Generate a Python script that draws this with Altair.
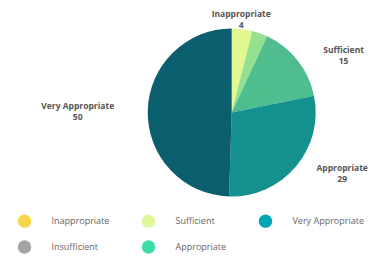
import altair as alt
import pandas as pd

categories = ["Inappropriate", "Insufficient", "Sufficient", "Appropriate", "Very Appropriate"]
values = [4, 3, 15, 29, 50]
pie_colors = ["#e3f790", "#93e08f", "#4fbd8e", "#14918f", "#0a5e6e"]
legend_colors = ["#f8d64b", "#a3a3a3", "#dff79b", "#3ddca8", "#00a6b4"]
labelled = ["Inappropriate", "Sufficient", "Appropriate", "Very Appropriate"]

df = pd.DataFrame({"category": categories, "value": values, "order": list(range(len(categories)))})
legend_df = pd.DataFrame({"item": categories})
total = sum(values)

CX, CY = 223.7, 104.5
R = 84
theta_scale = alt.Scale(domain=[0, total], range=[0, 6.283185307])

pie = alt.Chart(df).mark_arc(radius=R).encode(
    theta=alt.Theta("value:Q", stack=True, scale=theta_scale),
    color=alt.Color("order:O", scale=alt.Scale(range=pie_colors), legend=None),
    order=alt.Order("order:Q"),
    x=alt.value(CX), y=alt.value(CY),
)

# label placement style: (radius, dx, dy)
label_style = {
    "Inappropriate": (93, -2, -6),
    "Sufficient": (126, 13, 16),
    "Appropriate": (130, 11, -28),
    "Very Appropriate": (154, 0, -4),
}

base_text = alt.Chart(df).transform_window(
    cum="sum(value)", sort=[alt.SortField("order")], frame=[None, 0]
).transform_calculate(
    mid="datum.cum - datum.value/2",
    label="[datum.category, '' + datum.value]",
)

text_layers = []
for cat in labelled:
    r, dx, dy = label_style[cat]
    text_layers.append(
        base_text.transform_filter(alt.datum.category == cat).mark_text(
            radius=r, dx=dx, dy=dy, font="Open Sans", fontWeight="bold",
            fontSize=8.5, color="#555555", lineHeight=11, baseline="middle", align="center",
        ).encode(
            theta=alt.Theta("mid:Q", stack=False, scale=theta_scale),
            text=alt.Text("label:N"),
            x=alt.value(CX), y=alt.value(CY),
        )
    )

leg = alt.Chart(legend_df).mark_point(filled=True, opacity=0).encode(
    fill=alt.Fill(
        "item:N",
        scale=alt.Scale(domain=categories, range=legend_colors),
        legend=alt.Legend(
            orient="none", legendX=9.5, legendY=206, columns=3, title=None,
            symbolType="circle", symbolSize=180, symbolOpacity=1, symbolStrokeWidth=0,
            labelFont="Open Sans", labelFontSize=9, labelColor="#666666",
            labelOffset=20, columnPadding=32, rowPadding=12, padding=0,
        ),
    ),
    x=alt.value(CX), y=alt.value(CY),
)

chart = alt.layer(pie, *text_layers, leg).properties(
    width=361, height=250, padding=0,
    autosize=alt.AutoSizeParams(type="none"),
    background="white",
).configure_view(stroke=None)

chart.save("out.html", embed_options={"renderer": "svg", "actions": False})
